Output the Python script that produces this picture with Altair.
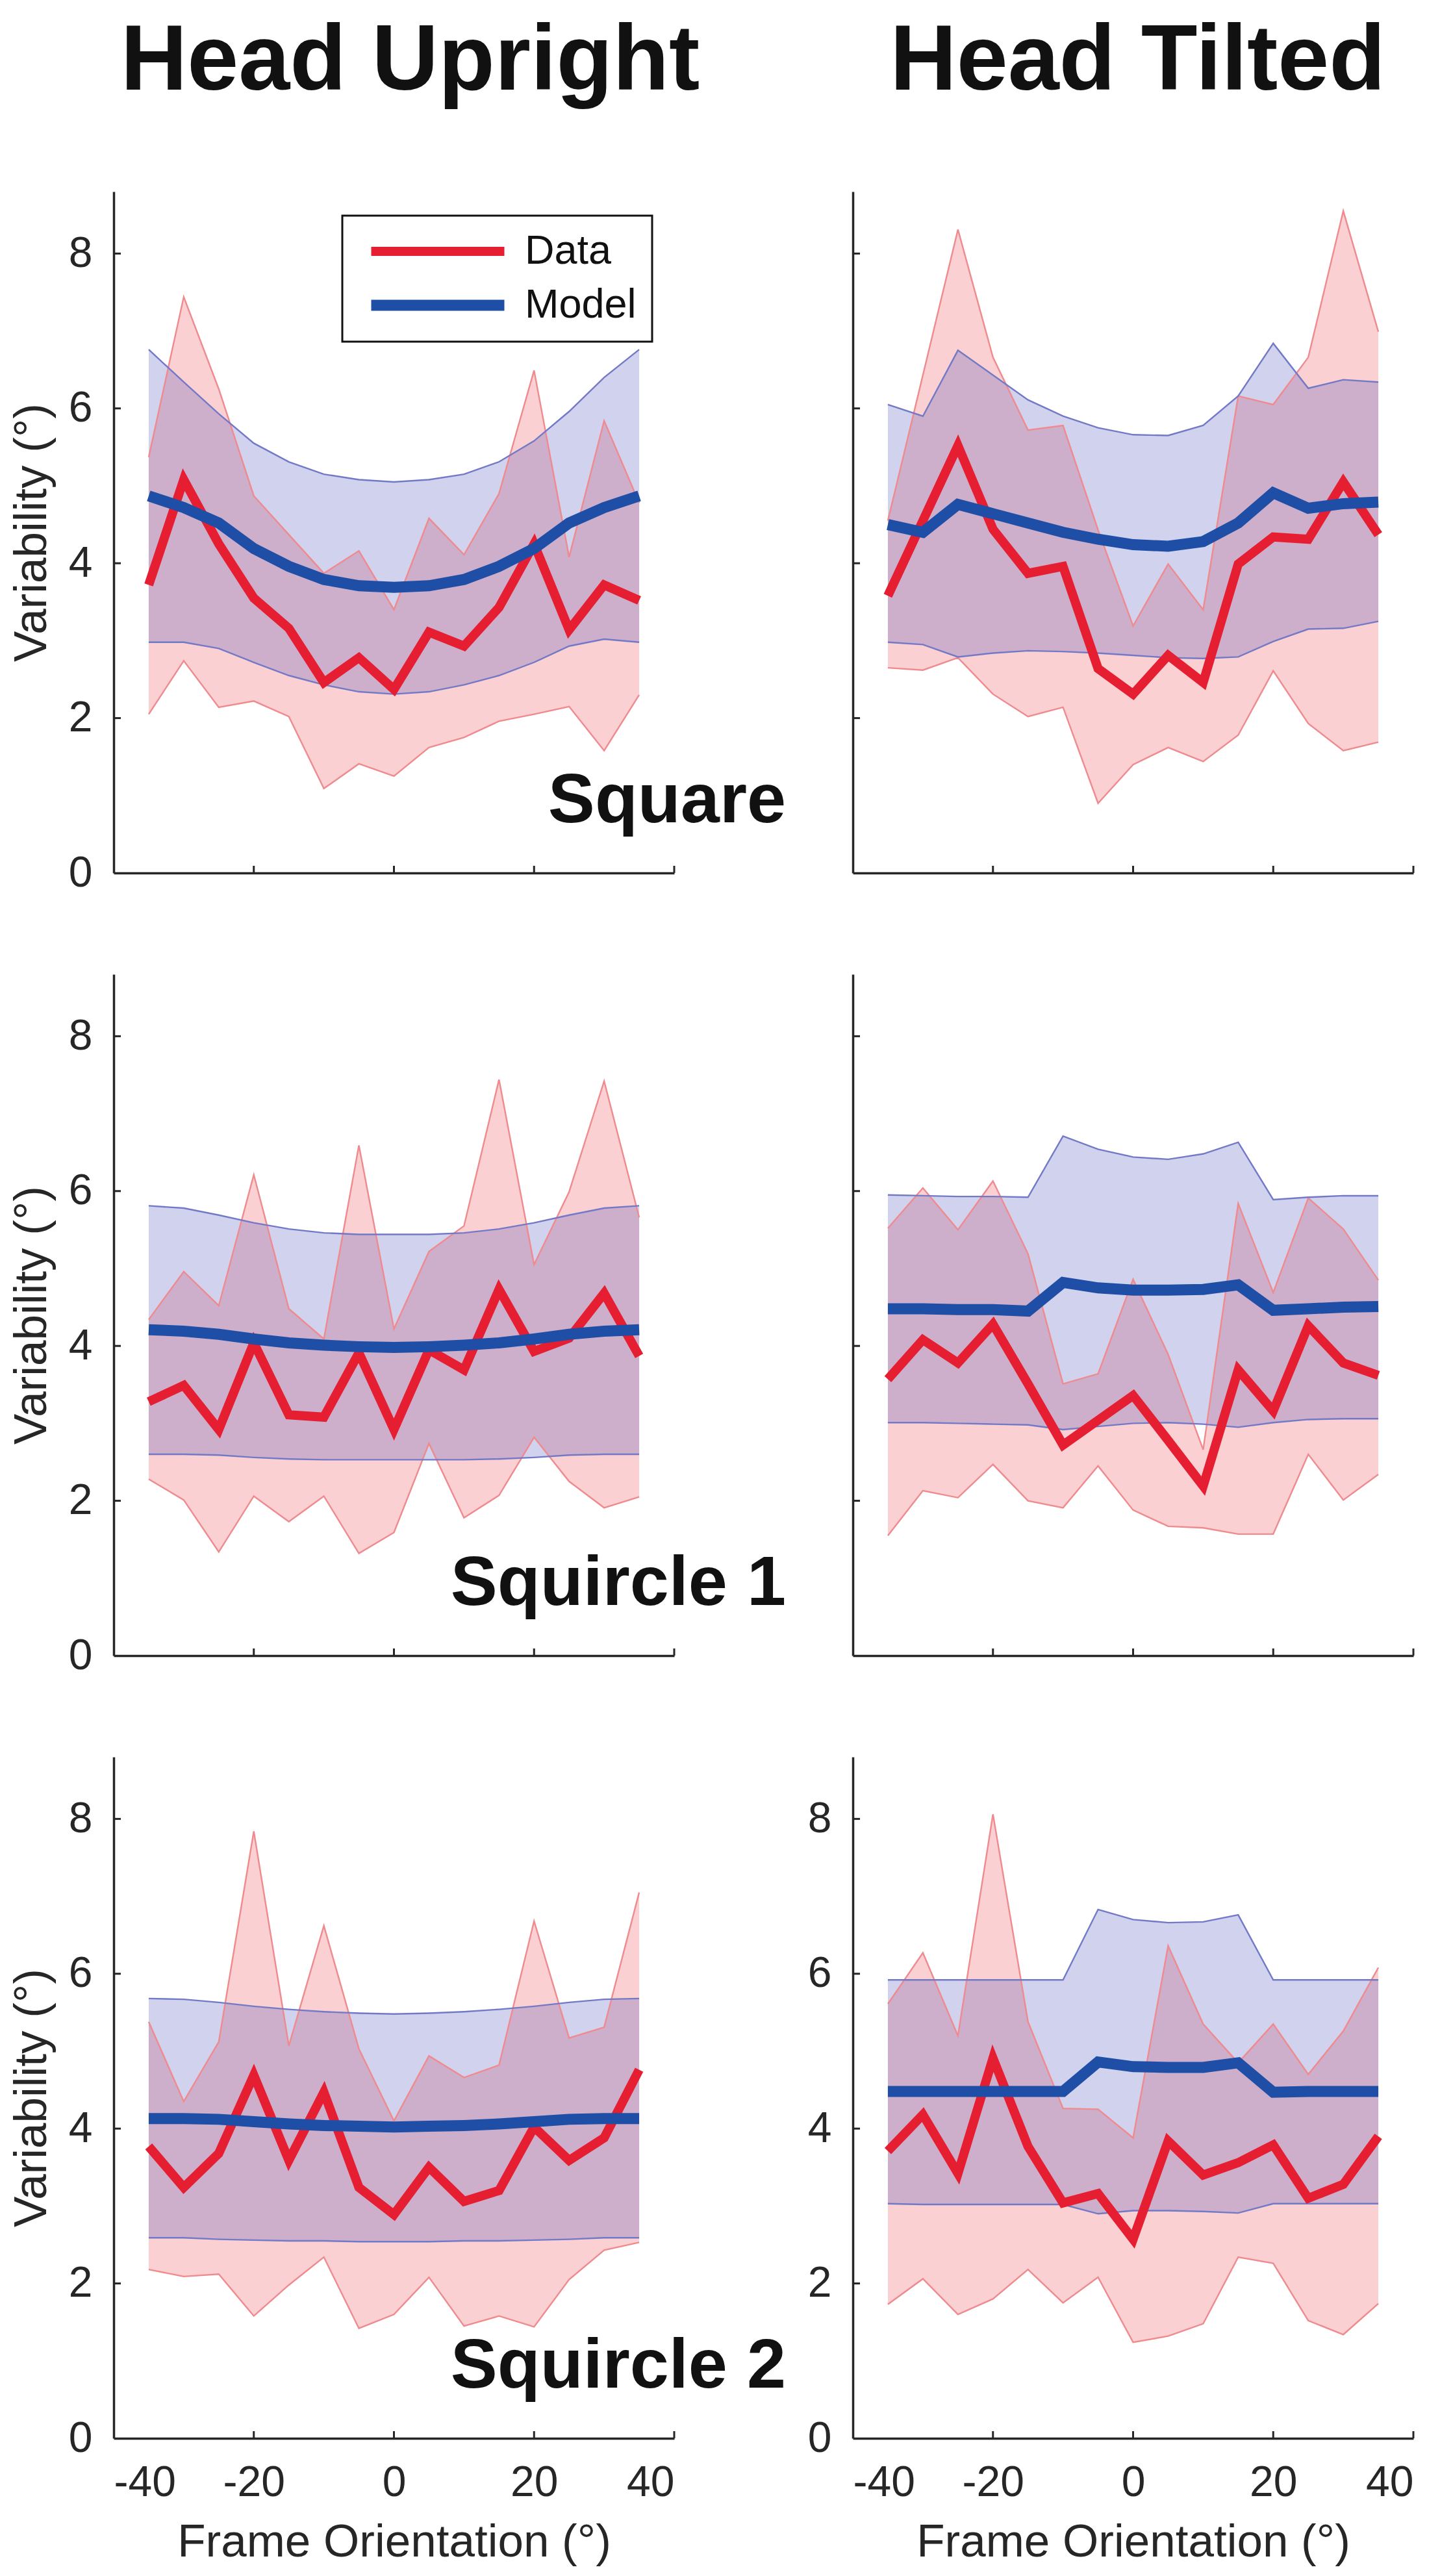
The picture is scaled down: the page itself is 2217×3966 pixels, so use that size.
import altair as alt
import pandas as pd

# frame orientations (deg)
FRAMES = [-35, -30, -25, -20, -15, -10, -5, 0, 5, 10, 15, 20, 25, 30, 35]

# Head upright, square frame
UP_SQ_DATA = [3.72, 5.08, 4.25, 3.55, 3.16, 2.46, 2.78, 2.37, 3.11, 2.93, 3.43, 4.25, 3.14, 3.72, 3.52]
UP_SQ_DATA_HI = [5.37, 7.44, 6.25, 4.87, 4.37, 3.87, 4.16, 3.40, 4.58, 4.11, 4.90, 6.49, 4.08, 5.84, 4.78]
UP_SQ_DATA_LO = [2.05, 2.74, 2.14, 2.22, 2.02, 1.09, 1.41, 1.25, 1.62, 1.75, 1.96, 2.05, 2.15, 1.58, 2.30]
UP_SQ_MODEL = [4.87, 4.72, 4.52, 4.19, 3.96, 3.79, 3.71, 3.69, 3.71, 3.79, 3.96, 4.19, 4.52, 4.72, 4.87]
UP_SQ_MODEL_HI = [6.76, 6.34, 5.93, 5.55, 5.31, 5.15, 5.08, 5.05, 5.08, 5.15, 5.31, 5.58, 5.96, 6.40, 6.76]
UP_SQ_MODEL_LO = [2.98, 2.98, 2.90, 2.72, 2.55, 2.43, 2.34, 2.31, 2.34, 2.43, 2.55, 2.72, 2.93, 3.02, 2.98]

# Head tilted, square frame
TI_SQ_DATA = [3.58, 4.55, 5.52, 4.44, 3.87, 3.96, 2.64, 2.31, 2.81, 2.46, 3.99, 4.34, 4.31, 5.05, 4.37]
TI_SQ_DATA_HI = [4.55, 6.43, 8.31, 6.66, 5.72, 5.78, 4.43, 3.19, 3.99, 3.40, 6.16, 6.05, 6.66, 8.55, 6.99]
TI_SQ_DATA_LO = [2.65, 2.62, 2.78, 2.31, 2.02, 2.14, 0.90, 1.40, 1.62, 1.44, 1.78, 2.61, 1.93, 1.58, 1.69]
TI_SQ_MODEL = [4.50, 4.40, 4.76, 4.64, 4.52, 4.40, 4.31, 4.24, 4.22, 4.28, 4.52, 4.91, 4.71, 4.77, 4.79]
TI_SQ_MODEL_HI = [6.05, 5.90, 6.75, 6.43, 6.11, 5.90, 5.75, 5.66, 5.65, 5.78, 6.16, 6.84, 6.26, 6.37, 6.34]
TI_SQ_MODEL_LO = [2.98, 2.95, 2.79, 2.84, 2.87, 2.86, 2.84, 2.81, 2.78, 2.77, 2.79, 2.99, 3.15, 3.16, 3.25]

# Head upright, squircle 1
UP_S1_DATA = [3.28, 3.49, 2.92, 4.04, 3.11, 3.08, 3.91, 2.92, 3.95, 3.69, 4.73, 3.93, 4.10, 4.68, 3.87]
UP_S1_DATA_HI = [4.34, 4.96, 4.52, 6.21, 4.48, 4.09, 6.59, 4.22, 5.22, 5.55, 7.44, 5.05, 5.99, 7.42, 5.66]
UP_S1_DATA_LO = [2.28, 2.01, 1.34, 2.06, 1.73, 2.06, 1.32, 1.59, 2.74, 1.78, 2.07, 2.82, 2.25, 1.91, 2.05]
UP_S1_MODEL = [4.21, 4.19, 4.15, 4.09, 4.04, 4.01, 3.99, 3.98, 3.99, 4.01, 4.04, 4.09, 4.15, 4.19, 4.21]
UP_S1_MODEL_HI = [5.81, 5.78, 5.69, 5.59, 5.51, 5.46, 5.44, 5.44, 5.44, 5.46, 5.51, 5.59, 5.69, 5.78, 5.81]
UP_S1_MODEL_LO = [2.60, 2.60, 2.59, 2.56, 2.54, 2.53, 2.53, 2.53, 2.53, 2.53, 2.54, 2.56, 2.59, 2.60, 2.60]

# Head tilted, squircle 1
TI_S1_DATA = [3.57, 4.08, 3.78, 4.28, 3.51, 2.72, 3.04, 3.36, 2.78, 2.19, 3.69, 3.16, 4.26, 3.78, 3.62]
TI_S1_DATA_HI = [5.52, 6.04, 5.50, 6.13, 5.19, 3.51, 3.64, 4.86, 3.89, 2.66, 5.84, 4.69, 5.91, 5.51, 4.85]
TI_S1_DATA_LO = [1.55, 2.13, 2.04, 2.47, 2.00, 1.91, 2.45, 1.88, 1.67, 1.65, 1.57, 1.57, 2.60, 2.01, 2.34]
TI_S1_MODEL = [4.48, 4.48, 4.47, 4.47, 4.45, 4.82, 4.75, 4.72, 4.72, 4.73, 4.79, 4.46, 4.48, 4.50, 4.51]
TI_S1_MODEL_HI = [5.95, 5.94, 5.93, 5.93, 5.92, 6.71, 6.54, 6.44, 6.41, 6.48, 6.63, 5.89, 5.92, 5.94, 5.94]
TI_S1_MODEL_LO = [3.01, 3.01, 3.00, 2.99, 2.98, 2.92, 2.96, 3.00, 3.01, 2.99, 2.95, 3.01, 3.05, 3.06, 3.06]

# Head upright, squircle 2
UP_S2_DATA = [3.77, 3.24, 3.68, 4.69, 3.59, 4.47, 3.24, 2.89, 3.50, 3.06, 3.20, 4.02, 3.59, 3.88, 4.76]
UP_S2_DATA_HI = [5.38, 4.35, 5.12, 7.84, 5.07, 6.62, 5.03, 4.10, 4.94, 4.66, 4.82, 6.68, 5.17, 5.31, 7.05]
UP_S2_DATA_LO = [2.18, 2.09, 2.12, 1.58, 1.98, 2.34, 1.42, 1.60, 2.08, 1.45, 1.58, 1.44, 2.05, 2.43, 2.53]
UP_S2_MODEL = [4.13, 4.13, 4.12, 4.09, 4.06, 4.04, 4.03, 4.02, 4.03, 4.04, 4.06, 4.09, 4.12, 4.13, 4.13]
UP_S2_MODEL_HI = [5.68, 5.67, 5.63, 5.58, 5.54, 5.51, 5.49, 5.48, 5.49, 5.51, 5.54, 5.58, 5.63, 5.67, 5.68]
UP_S2_MODEL_LO = [2.59, 2.59, 2.57, 2.56, 2.55, 2.55, 2.54, 2.54, 2.54, 2.55, 2.55, 2.56, 2.57, 2.59, 2.59]

# Head tilted, squircle 2
TI_S2_DATA = [3.71, 4.18, 3.42, 4.91, 3.77, 3.04, 3.16, 2.57, 3.84, 3.40, 3.56, 3.79, 3.10, 3.28, 3.90]
TI_S2_DATA_HI = [5.61, 6.27, 5.20, 8.06, 5.38, 4.26, 4.25, 3.88, 6.36, 5.35, 4.85, 5.35, 4.70, 5.26, 6.08]
TI_S2_DATA_LO = [1.73, 2.06, 1.60, 1.80, 2.18, 1.75, 2.08, 1.24, 1.32, 1.48, 2.34, 2.26, 1.52, 1.34, 1.74]
TI_S2_MODEL = [4.48, 4.48, 4.48, 4.48, 4.48, 4.48, 4.86, 4.80, 4.79, 4.79, 4.85, 4.47, 4.48, 4.48, 4.48]
TI_S2_MODEL_HI = [5.92, 5.92, 5.92, 5.92, 5.92, 5.92, 6.83, 6.70, 6.66, 6.67, 6.76, 5.92, 5.92, 5.92, 5.92]
TI_S2_MODEL_LO = [3.03, 3.02, 3.02, 3.02, 3.02, 3.02, 2.90, 2.94, 2.94, 2.93, 2.91, 3.03, 3.03, 3.03, 3.03]

X_TICKS = [-40, -20, 0, 20, 40]
Y_TICKS = [0, 2, 4, 6, 8]
SERIES = ["Data", "Model"]

W, H = 863, 1049
FONT = "Liberation Sans"
AX = "#262626"
RED, BLUE = "#e61e32", "#1f4ea6"
RED_FILL, BLUE_FILL = "#e8202a", "#3a3cb4"
RED_EDGE, BLUE_EDGE = "#ef8a8e", "#7279c6"


def panel(d, d_hi, d_lo, m, m_hi, m_lo, title=None, title_dx=0, label=None,
          x_labels=False, y_labels=False, y_title=False, legend=False):
    band = pd.DataFrame({"frame": FRAMES, "d_lo": d_lo, "d_hi": d_hi,
                         "m_lo": m_lo, "m_hi": m_hi})
    lines = pd.DataFrame({
        "frame": FRAMES + FRAMES,
        "value": d + m,
        "series": ["Data"] * len(FRAMES) + ["Model"] * len(FRAMES),
    })

    xscale = alt.Scale(domain=[-40, 40], nice=False, zero=False)
    yscale = alt.Scale(domain=[0, 8.8], nice=False)
    # plain hyphen for negative tick labels, as in the original figure
    xaxis = alt.Axis(values=X_TICKS, labels=x_labels, ticks=False, grid=False,
                     labelExpr="'' + datum.value",
                     labelPadding=36, titlePadding=24, domainWidth=3.5)
    yaxis = alt.Axis(values=Y_TICKS, labels=y_labels, ticks=False, grid=False,
                     labelPadding=33, titlePadding=20, domainWidth=3.5)
    xt = "Frame Orientation (°)" if x_labels else None
    yt = "Variability (°)" if y_title else None

    def X(f):
        return alt.X(f, scale=xscale, axis=xaxis, title=xt)

    def Y(f):
        return alt.Y(f, scale=yscale, axis=yaxis, title=yt)

    base = alt.Chart(band)
    red_band = base.mark_area(color=RED_FILL, opacity=0.21).encode(
        x=X("frame:Q"), y=Y("d_lo:Q"), y2="d_hi:Q")
    blue_band = base.mark_area(color=BLUE_FILL, opacity=0.23).encode(
        x=X("frame:Q"), y=Y("m_lo:Q"), y2="m_hi:Q")
    edges = [
        base.mark_line(color=RED_EDGE, strokeWidth=2.4).encode(x=X("frame:Q"), y=Y(f))
        for f in ("d_lo:Q", "d_hi:Q")
    ] + [
        base.mark_line(color=BLUE_EDGE, strokeWidth=2.4).encode(x=X("frame:Q"), y=Y(f))
        for f in ("m_lo:Q", "m_hi:Q")
    ]

    if legend:
        leg = alt.Legend(orient="none", legendX=352, legendY=37, title=None,
                         symbolType="stroke", symbolSize=205 ** 2,
                         symbolStrokeWidth=13, symbolOffset=12, clipHeight=62,
                         labelFont=FONT, labelFontSize=63, labelColor="#111111",
                         labelOffset=23, labelLimit=400, padding=24, rowPadding=20,
                         strokeColor="#111111")
    else:
        leg = None
    color = alt.Color("series:N", scale=alt.Scale(domain=SERIES, range=[RED, BLUE]),
                      legend=leg)
    size = alt.Size("series:N", scale=alt.Scale(domain=SERIES, range=[14, 17]),
                    legend=None)
    mean_lines = alt.Chart(lines).mark_line().encode(
        x=X("frame:Q"), y=Y("value:Q"), color=color, strokeWidth=size,
        order=alt.Order("frame:Q"))

    yt_df = pd.DataFrame({"v": Y_TICKS[1:]})
    xt_df = pd.DataFrame({"v": X_TICKS[1:]})
    y_ticks = alt.Chart(yt_df).mark_rule(color=AX, strokeWidth=3).encode(
        y=Y("v:Q"), x=alt.value(0), x2=alt.value(11))
    x_ticks = alt.Chart(xt_df).mark_rule(color=AX, strokeWidth=3).encode(
        x=X("v:Q"), y=alt.value(H), y2=alt.value(H - 11))

    layers = [red_band, blue_band] + edges + [mean_lines, y_ticks, x_ticks]
    if label:
        txt = alt.Chart(pd.DataFrame({"t": [label]})).mark_text(
            font=FONT, fontSize=108, fontWeight="bold", color="#111111",
            align="right", baseline="alphabetic").encode(
            text="t:N", x=alt.value(W + 172), y=alt.value(H - 78))
        layers.append(txt)

    props = dict(width=W, height=H)
    if title:
        props["title"] = alt.Title(title, font=FONT, fontSize=142, fontWeight="bold",
                                   color="#111111", anchor="middle", dx=title_dx,
                                   baseline="alphabetic", offset=15)
    return alt.layer(*layers).properties(**props)


p1 = panel(UP_SQ_DATA, UP_SQ_DATA_HI, UP_SQ_DATA_LO, UP_SQ_MODEL, UP_SQ_MODEL_HI,
           UP_SQ_MODEL_LO, title="Head Upright", title_dx=25, label="Square",
           y_labels=True, y_title=True, legend=True)
p2 = panel(TI_SQ_DATA, TI_SQ_DATA_HI, TI_SQ_DATA_LO, TI_SQ_MODEL, TI_SQ_MODEL_HI,
           TI_SQ_MODEL_LO, title="Head Tilted", title_dx=7)
p3 = panel(UP_S1_DATA, UP_S1_DATA_HI, UP_S1_DATA_LO, UP_S1_MODEL, UP_S1_MODEL_HI,
           UP_S1_MODEL_LO, label="Squircle 1", y_labels=True, y_title=True)
p4 = panel(TI_S1_DATA, TI_S1_DATA_HI, TI_S1_DATA_LO, TI_S1_MODEL, TI_S1_MODEL_HI,
           TI_S1_MODEL_LO)
p5 = panel(UP_S2_DATA, UP_S2_DATA_HI, UP_S2_DATA_LO, UP_S2_MODEL, UP_S2_MODEL_HI,
           UP_S2_MODEL_LO, label="Squircle 2", x_labels=True, y_labels=True,
           y_title=True)
p6 = panel(TI_S2_DATA, TI_S2_DATA_HI, TI_S2_DATA_LO, TI_S2_MODEL, TI_S2_MODEL_HI,
           TI_S2_MODEL_LO, x_labels=True, y_labels=True)

chart = alt.concat(
    p1, p2, p3, p4, p5, p6, columns=2, bounds="flush",
    spacing={"row": 156, "column": 275},
).resolve_scale(
    color="independent", strokeWidth="independent"
).configure_view(
    stroke=None
).configure_axis(
    labelFont=FONT, labelFontSize=66, labelColor=AX,
    titleFont=FONT, titleFontSize=71, titleFontWeight="normal", titleColor=AX,
    domainColor=AX,
).configure_legend(
    strokeWidth=3
).properties(
    padding={"left": 5, "top": 16, "right": 5, "bottom": 5},
    background="white",
)

chart.save("out.html", embed_options={"renderer": "svg", "actions": False})
